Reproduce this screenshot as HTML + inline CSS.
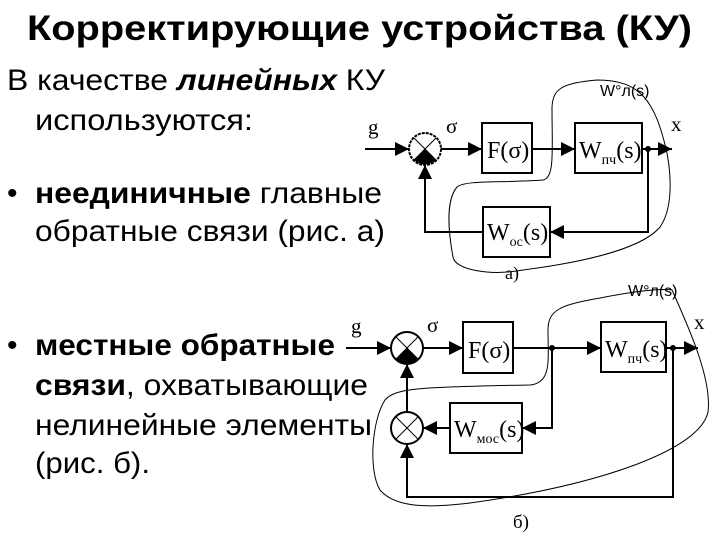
<!DOCTYPE html>
<html><head><meta charset="utf-8"><style>html,body{margin:0;padding:0;background:#fff}svg{display:block}</style></head>
<body>
<svg width="720" height="540" viewBox="0 0 720 540" xmlns="http://www.w3.org/2000/svg">
<defs>
<marker id="ar" viewBox="0 0 10 10" refX="10" refY="5" markerWidth="14" markerHeight="14" markerUnits="userSpaceOnUse" orient="auto"><path d="M0,0 L10,5 L0,10 z" fill="#000"/></marker>
</defs>
<g font-family="Liberation Sans, Arial, sans-serif" fill="#000">
<text x="27" y="40" font-size="35" font-weight="bold" textLength="665" lengthAdjust="spacingAndGlyphs">Корректирующие устройства (КУ)</text>
<text x="7" y="90" font-size="30" textLength="378" lengthAdjust="spacingAndGlyphs">В качестве <tspan font-weight="bold" font-style="italic">линейных</tspan> КУ</text>
<text x="35" y="130" font-size="30" textLength="218" lengthAdjust="spacingAndGlyphs">используются:</text>
<text x="7" y="203" font-size="30">•</text>
<text x="35" y="203" font-size="30" textLength="347" lengthAdjust="spacingAndGlyphs"><tspan font-weight="bold">неединичные</tspan> главные</text>
<text x="35" y="241" font-size="30" textLength="350" lengthAdjust="spacingAndGlyphs">обратные связи (рис. а)</text>
<text x="7" y="355" font-size="30">•</text>
<text x="35" y="355" font-size="30" font-weight="bold" textLength="300" lengthAdjust="spacingAndGlyphs">местные обратные</text>
<text x="35" y="395" font-size="30" textLength="333" lengthAdjust="spacingAndGlyphs"><tspan font-weight="bold">связи</tspan>, охватывающие</text>
<text x="35" y="435" font-size="30" textLength="337" lengthAdjust="spacingAndGlyphs">нелинейные элементы</text>
<text x="35" y="473" font-size="30" textLength="115" lengthAdjust="spacingAndGlyphs">(рис. б).</text>
</g>
<g stroke="#000" stroke-width="2" fill="none">
<!-- diagram a -->
<line x1="365" y1="149" x2="409" y2="149" marker-end="url(#ar)"/>
<circle cx="425" cy="149" r="16" fill="#fff" stroke-dasharray="3,1"/>
<line x1="414" y1="138" x2="436" y2="160" stroke-width="1"/>
<line x1="436" y1="138" x2="414" y2="160" stroke-width="1"/>
<path d="M414,160 L425,149 L436,160 A16,16 0 0 1 414,160 z" fill="#000" stroke="none"/>
<line x1="441" y1="149" x2="482" y2="149" marker-end="url(#ar)"/>
<rect x="482" y="123" width="50" height="50" fill="#fff"/>
<line x1="532" y1="149" x2="575" y2="149" marker-end="url(#ar)"/>
<rect x="575" y="123" width="67" height="50" fill="#fff"/>
<line x1="642" y1="149" x2="672" y2="149" marker-end="url(#ar)"/>
<polyline points="648,149 648,232 550,232" marker-end="url(#ar)"/>
<rect x="483" y="207" width="67" height="50" fill="#fff"/>
<polyline points="483,232 425,232 425,165" marker-end="url(#ar)"/>
<circle cx="648" cy="149" r="2" fill="#000"/>
<path stroke-width="1" d="M597,80 C640,80 655,100 667,153 C672,180 672,210 660,227 C645,245 600,260 523,270 C490,276 455,270 453,257 C448,230 446,200 457,187 C465,180 500,183 543,180 C555,178 552,150 552,107 C553,90 560,83 597,80 z"/>
<!-- diagram b -->
<line x1="346" y1="348" x2="391" y2="348" marker-end="url(#ar)"/>
<circle cx="407" cy="348" r="16" fill="#fff"/>
<line x1="396" y1="337" x2="418" y2="359" stroke-width="1"/>
<line x1="418" y1="337" x2="396" y2="359" stroke-width="1"/>
<path d="M396,359 L407,348 L418,359 A16,16 0 0 1 396,359 z" fill="#000" stroke="none"/>
<line x1="423" y1="348" x2="463" y2="348" marker-end="url(#ar)"/>
<rect x="463" y="322" width="50" height="51" fill="#fff"/>
<line x1="513" y1="348" x2="601" y2="348" marker-end="url(#ar)"/>
<rect x="601" y="322" width="65" height="50" fill="#fff"/>
<line x1="666" y1="348" x2="698" y2="348" marker-end="url(#ar)"/>
<circle cx="552" cy="348" r="2" fill="#000"/>
<circle cx="673" cy="348" r="2" fill="#000"/>
<polyline points="552,348 552,428 522,428" marker-end="url(#ar)"/>
<rect x="450" y="403" width="72" height="50" fill="#fff"/>
<line x1="450" y1="428" x2="423" y2="428" marker-end="url(#ar)"/>
<circle cx="407" cy="428" r="16" fill="#fff"/>
<line x1="396" y1="417" x2="418" y2="439" stroke-width="1"/>
<line x1="418" y1="417" x2="396" y2="439" stroke-width="1"/>
<line x1="407" y1="412" x2="407" y2="364" marker-end="url(#ar)"/>
<polyline points="673,348 673,497 407,497 407,444" marker-end="url(#ar)"/>
<path stroke-width="1" d="M672,290 C690,330 712,380 708,412 C700,450 600,485 470,503 C430,508 395,508 380,490 C368,470 372,420 385,400 C395,388 420,387 530,385 C552,383 548,360 548,330 C548,310 560,305 600,298 C630,292 660,288 672,290 z"/>
</g>
<g font-family="Liberation Serif, serif" fill="#000">
<text x="368" y="134" font-size="21">g</text>
<text x="446" y="133" font-size="21">σ</text>
<text x="671" y="131" font-size="21">x</text>
<text x="487" y="158" font-size="24">F(σ)</text>
<text x="579" y="158" font-size="24">W<tspan font-size="14" dy="6">пч</tspan><tspan dy="-6">(s)</tspan></text>
<text x="487" y="240" font-size="24">W<tspan font-size="14" dy="6">oc</tspan><tspan dy="-6">(s)</tspan></text>
<text x="505" y="279" font-size="18">а)</text>
<text x="351" y="333" font-size="21">g</text>
<text x="427" y="332" font-size="21">σ</text>
<text x="694" y="329" font-size="21">x</text>
<text x="468" y="358" font-size="24">F(σ)</text>
<text x="605" y="357" font-size="24">W<tspan font-size="14" dy="6">пч</tspan><tspan dy="-6">(s)</tspan></text>
<text x="454" y="437" font-size="24">W<tspan font-size="14" dy="6">мос</tspan><tspan dy="-6">(s)</tspan></text>
<text x="513" y="528" font-size="19">б)</text>
</g>
<g font-family="Liberation Sans, Arial, sans-serif" fill="#000" font-size="16">
<text x="600" y="96">W°л(s)</text>
<text x="628" y="296">W°л(s)</text>
</g>
</svg>
</body></html>
